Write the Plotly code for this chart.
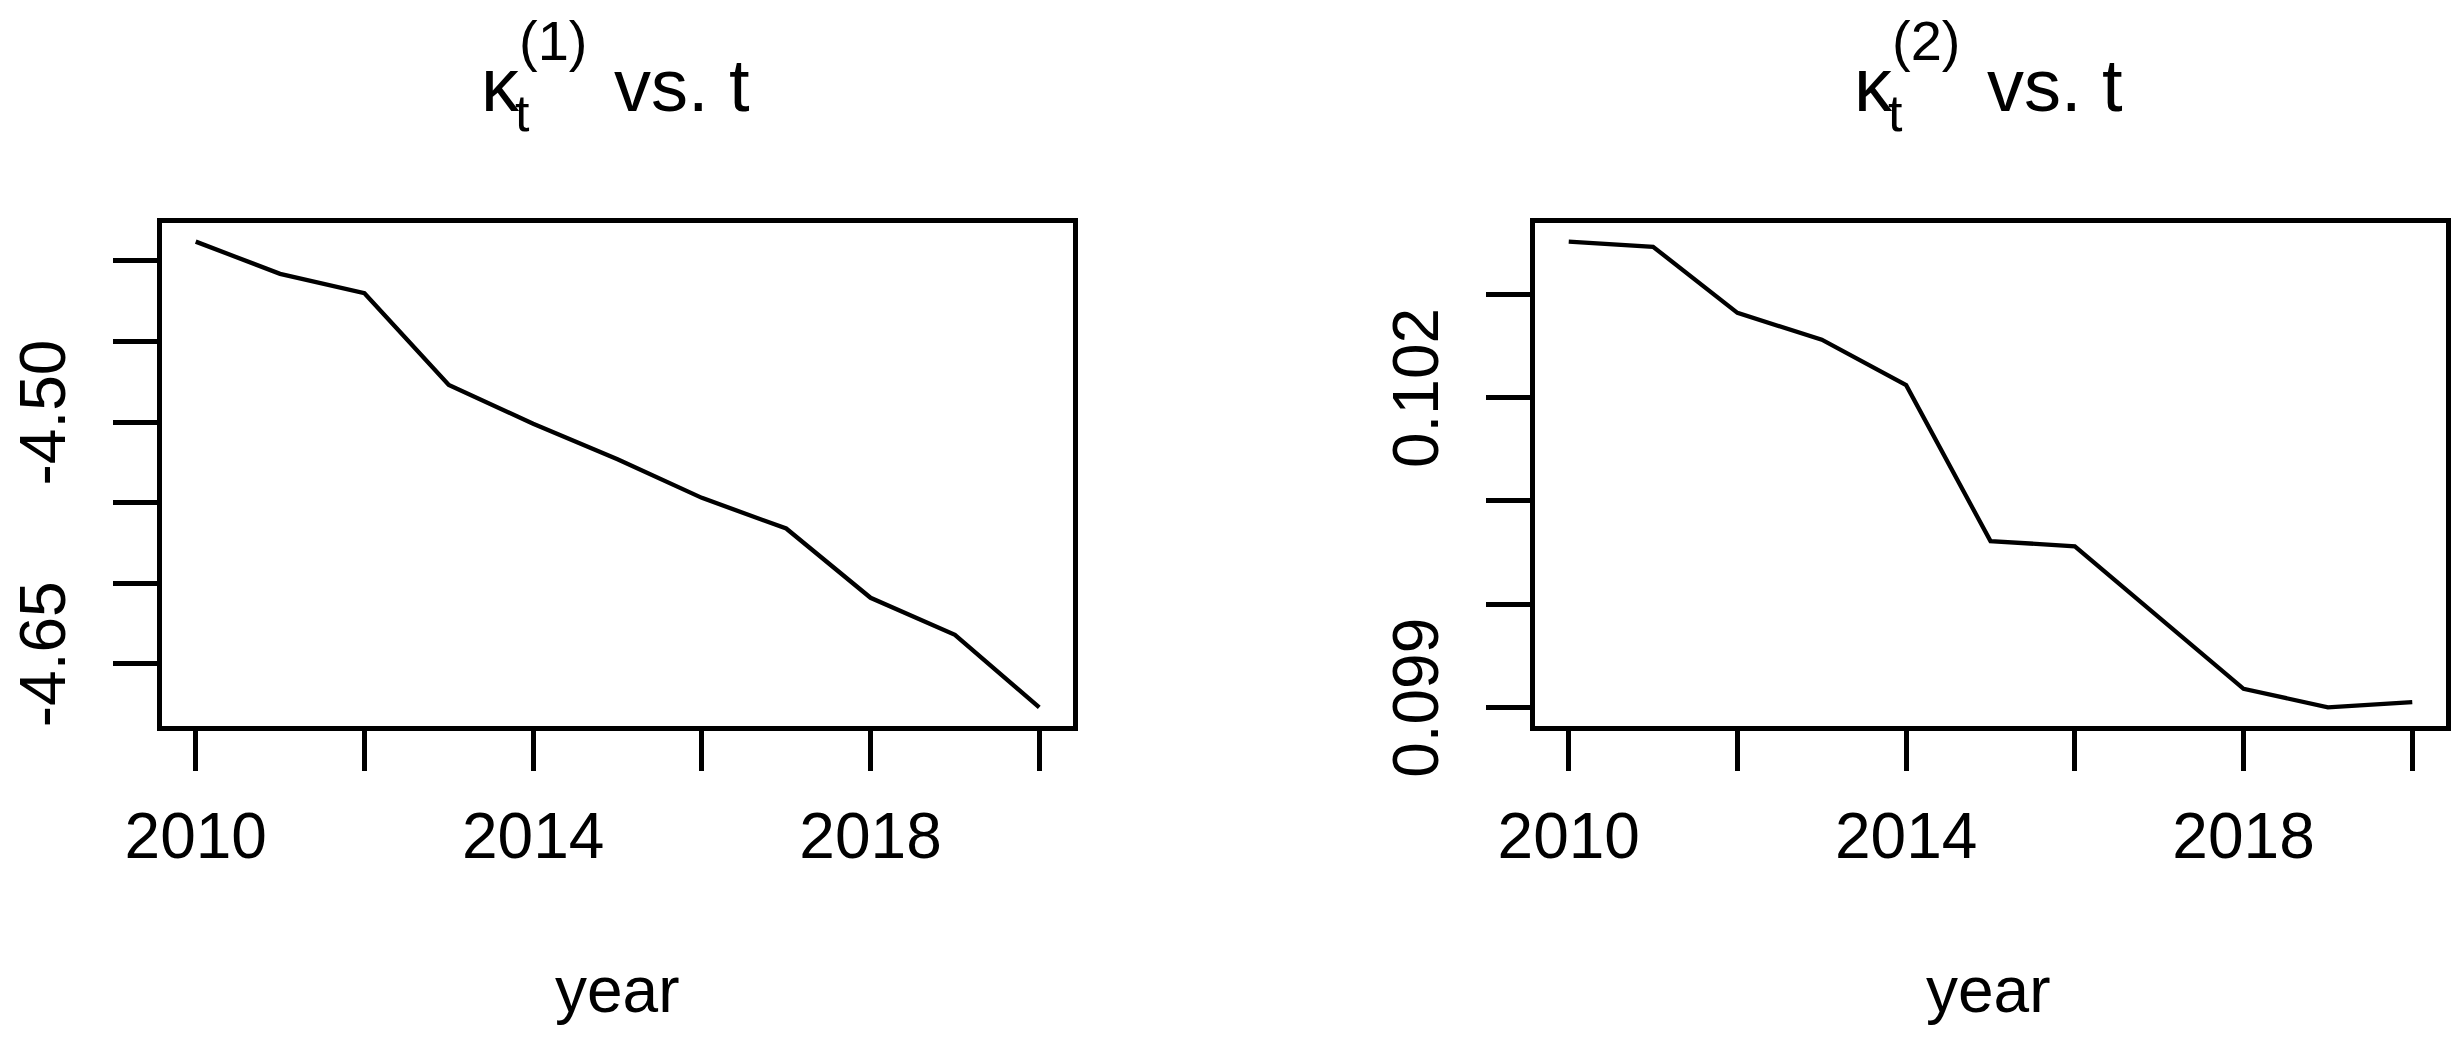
import plotly.graph_objects as go

# data
years = [2010, 2011, 2012, 2013, 2014, 2015, 2016, 2017, 2018, 2019, 2020]
kappa1 = [-4.388, -4.408, -4.420, -4.477, -4.501, -4.523, -4.547, -4.566, -4.609, -4.632, -4.677]
kappa2 = [0.10351, 0.10346, 0.10282, 0.10256, 0.10212, 0.10061, 0.10056, 0.09987, 0.09918, 0.09900, 0.09905]

x_tickvals = [2010, 2012, 2014, 2016, 2018, 2020]
x_ticktext = ["2010", "", "2014", "", "2018", ""]
y1_tickvals = [-4.40, -4.45, -4.50, -4.55, -4.60, -4.65]
y1_ticktext = ["", "", "-4.50", "", "", "-4.65"]
y2_tickvals = [0.099, 0.100, 0.101, 0.102, 0.103]
y2_ticktext = ["0.099", "", "", "0.102", ""]

# page body has an 8px margin, so the figure is 16px smaller than the window
OFF = 8
W, H = 2462 - 2 * OFF, 1039 - 2 * OFF
FONT = "Liberation Sans, Arial, sans-serif"


def r_range(vals):
    # R's default 4% padding around the data range
    lo, hi = min(vals), max(vals)
    pad = (hi - lo) * 0.04
    return [lo - pad, hi + pad]


def fx(x):
    return (x - OFF) / W


def fy(y):
    return 1 - (y - OFF) / H


fig = go.Figure()
fig.add_trace(go.Scatter(x=years, y=kappa1, mode="lines",
                         line=dict(color="black", width=4.3), xaxis="x", yaxis="y"))
fig.add_trace(go.Scatter(x=years, y=kappa2, mode="lines",
                         line=dict(color="black", width=4.3), xaxis="x2", yaxis="y2"))

axis_common = dict(showline=True, mirror=True, linecolor="black", linewidth=5,
                   ticks="outside", tickcolor="black", tickwidth=4.5,
                   showgrid=False, zeroline=False, automargin=False,
                   tickfont=dict(family=FONT, size=64, color="black"))

ydom = [fy(726), fy(223)]
fig.update_layout(
    template="none",
    xaxis=dict(domain=[fx(162), fx(1073)], range=r_range(years), anchor="y",
               tickvals=x_tickvals, ticktext=x_ticktext, ticklen=40,
               ticklabelstandoff=10, **axis_common),
    yaxis=dict(domain=ydom, range=r_range(kappa1), anchor="x",
               tickvals=y1_tickvals, ticktext=y1_ticktext, ticklen=44,
               tickangle=-90, ticklabelstandoff=22, **axis_common),
    xaxis2=dict(domain=[fx(1535), fx(2446)], range=r_range(years), anchor="y2",
                tickvals=x_tickvals, ticktext=x_ticktext, ticklen=40,
                ticklabelstandoff=10, **axis_common),
    yaxis2=dict(domain=ydom, range=r_range(kappa2), anchor="x2",
                tickvals=y2_tickvals, ticktext=y2_ticktext, ticklen=44,
                tickangle=-90, ticklabelstandoff=22, **axis_common),
    width=W, height=H,
    margin=dict(l=0, r=0, t=0, b=0, pad=0),
    plot_bgcolor="white", paper_bgcolor="white",
    showlegend=False,
)

# titles: kappa with stacked sub/superscript, like R plotmath
annotations = []
for kx, sup in [(479, "(1)"), (1852, "(2)")]:
    annotations += [
        dict(text="κ", x=fx(kx), y=fy(112 + 17), xanchor="left", yanchor="bottom",
             font=dict(size=76)),
        dict(text="t", x=fx(kx + 34), y=fy(132 + 12), xanchor="left", yanchor="bottom",
             font=dict(size=52)),
        dict(text=sup, x=fx(kx + 38), y=fy(62 + 12), xanchor="left", yanchor="bottom",
             font=dict(size=56)),
        dict(text="vs. t", x=fx(kx + 133), y=fy(112 + 17), xanchor="left", yanchor="bottom",
             font=dict(size=74)),
    ]
for cx in [617, 1988]:
    annotations.append(dict(text="year", x=fx(cx), y=fy(1013 + 15), xanchor="center",
                            yanchor="bottom", font=dict(size=64)))
for a in annotations:
    a.update(xref="paper", yref="paper", showarrow=False)
    a["font"].update(family=FONT, color="black")
fig.update_layout(annotations=annotations)

fig.write_html("out.html")
